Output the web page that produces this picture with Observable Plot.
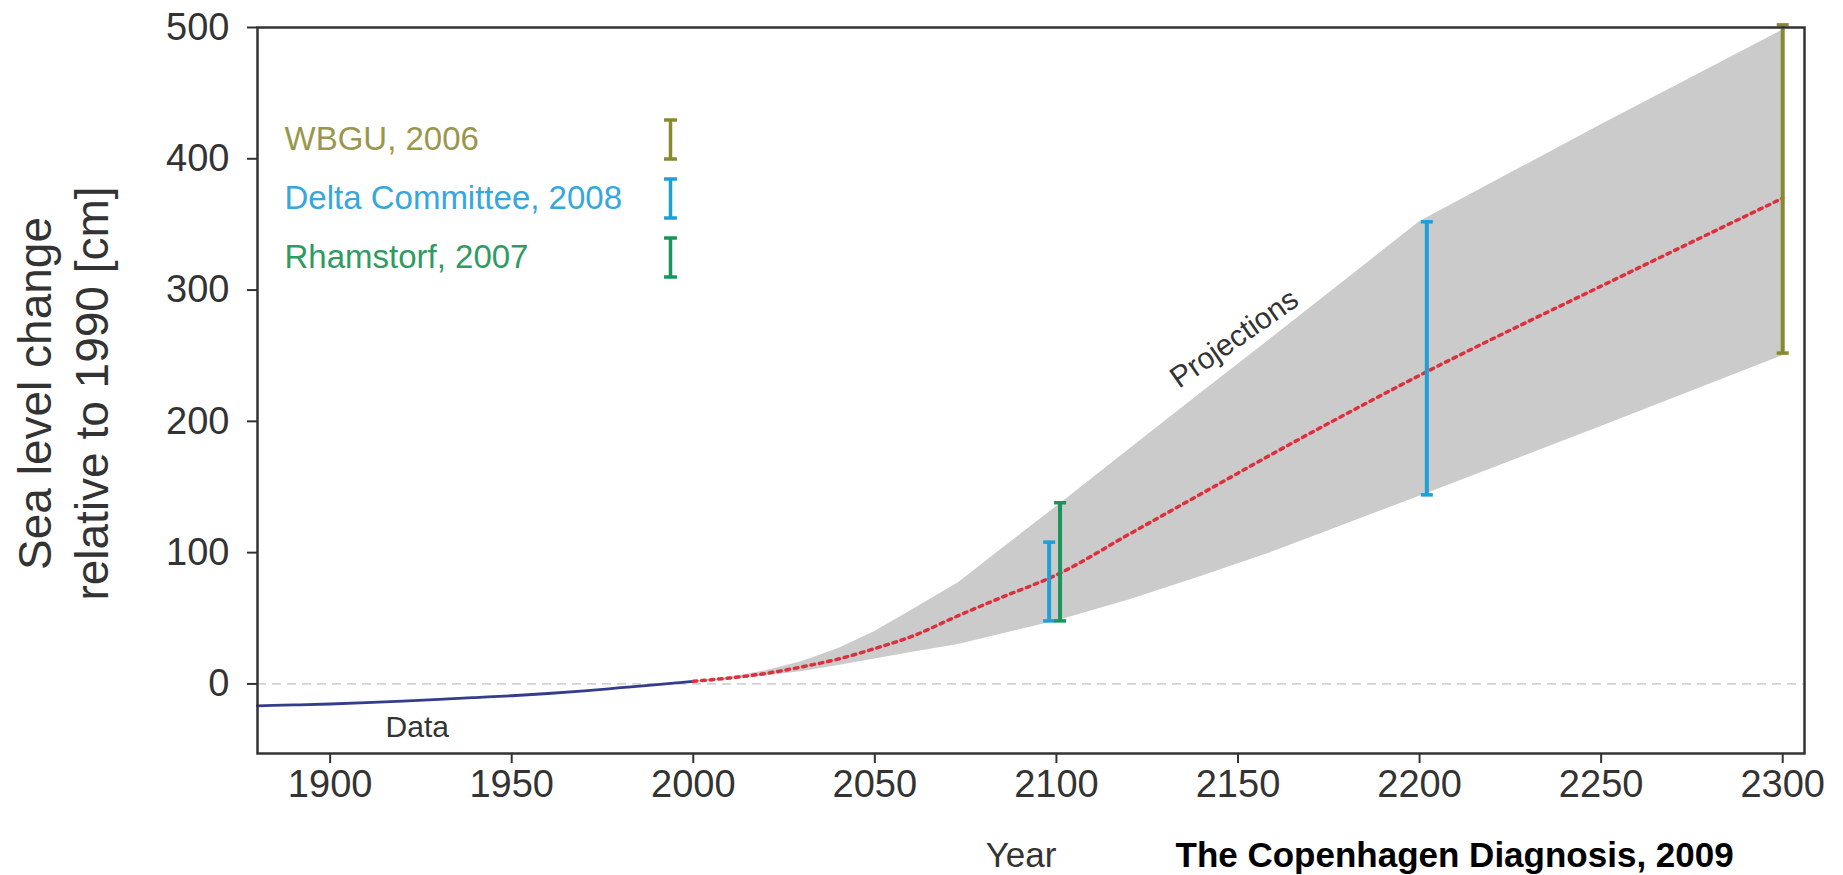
<!DOCTYPE html>
<html>
<head>
<meta charset="utf-8">
<script src="https://cdn.jsdelivr.net/npm/d3@7"></script>
<script src="https://cdn.jsdelivr.net/npm/@observablehq/plot@0.6"></script>
<style>
  html, body { margin: 0; padding: 0; background: #ffffff; }
  #chart svg { display: block; }
</style>
</head>
<body>
<div id="chart"></div>
<script>
// ---- Observed data (blue line) ----
const obsYears  = [1880, 1890, 1900, 1910, 1920, 1930, 1940, 1950, 1960, 1970, 1980, 1990, 2000];
const obsValues = [-16.7, -16, -15.3, -14.3, -13.1, -11.8, -10.4, -9, -7.3, -5.3, -2.9, -0.5, 2];

// ---- Projections (grey band + red dotted central line) ----
const projYears   = [2000, 2010, 2020, 2030, 2040, 2050, 2060, 2073, 2085, 2100, 2120, 2140, 2160, 2180, 2200, 2250, 2300];
const projLower   = [2, 3.5, 6, 9.5, 14, 19, 24, 30, 38, 48, 64, 82, 101, 122, 143, 196, 250];
const projCentral = [2, 4.5, 8, 13, 19, 27, 36, 52, 66, 83, 114, 145, 176, 206, 235, 303, 370];
const projUpper   = [2, 5, 10, 17, 27, 40, 56, 77, 103, 135, 178.5, 222, 265, 308.5, 352, 426, 498];

// ---- Published ranges (error bars) ----
const barYears   = [2098, 2101, 2202, 2300];
const barLow     = [48, 48, 144, 252];
const barHigh    = [108, 138, 352, 502];
const barSources = ["Delta Committee, 2008", "Rhamstorf, 2007", "Delta Committee, 2008", "WBGU, 2006"];

// ---- Legend ----
const legendLabels = ["WBGU, 2006", "Delta Committee, 2008", "Rhamstorf, 2007"];
const barColors    = {"WBGU, 2006": "#878a2c", "Delta Committee, 2008": "#1e9fd6", "Rhamstorf, 2007": "#17955a"};
const textColors   = {"WBGU, 2006": "#9a974c", "Delta Committee, 2008": "#35a7dc", "Rhamstorf, 2007": "#2e9c62"};

// ---- Axes ----
const xTicks = [1900, 1950, 2000, 2050, 2100, 2150, 2200, 2250, 2300];
const yTicks = [0, 100, 200, 300, 400, 500];

// ---- Annotations ----
const annotations = [
  {text: "Data", year: 1924, value: -33, rotate: 0},
  {text: "Projections", year: 2149, value: 263, rotate: -35}
];
const yTitleLines = ["Sea level change", "relative to 1990 [cm]"];
const xTitle = "Year";
const caption = "The Copenhagen Diagnosis, 2009";

// ---- Tables built from the arrays ----
const observed = obsYears.map((year, i) => ({year, value: obsValues[i]}));
const proj = projYears.map((year, i) => ({year, lower: projLower[i], central: projCentral[i], upper: projUpper[i]}));
const bars = barYears.map((year, i) => ({year, low: barLow[i], high: barHigh[i], source: barSources[i]}));

// Custom symbols
const capSymbol = {draw(ctx, size) { const r = Math.sqrt(size / Math.PI); ctx.moveTo(-r, 0); ctx.lineTo(r, 0); }};
const ibeamSymbol = {draw(ctx, size) {
  const r = Math.sqrt(size / Math.PI), w = r * 0.33;
  ctx.moveTo(-w, -r); ctx.lineTo(w, -r);
  ctx.moveTo(0, -r); ctx.lineTo(0, r);
  ctx.moveTo(-w, r); ctx.lineTo(w, r);
}};

const font = "'Liberation Sans', Arial, Helvetica, sans-serif";

const barMarks = legendLabels.flatMap(src => {
  const sub = bars.filter(d => d.source === src);
  const c = barColors[src];
  return [
    Plot.ruleX(sub, {x: "year", y1: "low", y2: "high", stroke: c, strokeWidth: 4}),
    Plot.dot(sub, {x: "year", y: "low", symbol: capSymbol, r: 6, stroke: c, strokeWidth: 3.5, fill: "none"}),
    Plot.dot(sub, {x: "year", y: "high", symbol: capSymbol, r: 6, stroke: c, strokeWidth: 3.5, fill: "none"})
  ];
});

const legendMarks = legendLabels.flatMap((src, i) => [
  Plot.text([src], {frameAnchor: "top-left", dx: 27, dy: 112 + i * 59, textAnchor: "start", lineAnchor: "middle",
    fill: textColors[src], fontSize: 33, fontFamily: font}),
  Plot.dot([0], {frameAnchor: "top-left", dx: 413, dy: 112 + i * 59, symbol: ibeamSymbol, r: 19.5,
    stroke: barColors[src], strokeWidth: 3.5, fill: "none"})
]);

const chart = Plot.plot({
  width: 1843,
  height: 875,
  marginLeft: 257,
  marginRight: 39,
  marginTop: 27,
  marginBottom: 122,
  clip: false,
  style: {fontFamily: font, fontSize: "38px", color: "#333", background: "#ffffff", overflow: "visible"},
  x: {domain: [1880, 2306]},
  y: {domain: [-53, 500]},
  marks: [
    Plot.ruleY([0], {stroke: "#d2d2d2", strokeWidth: 1.6, strokeDasharray: "9,6"}),
    Plot.areaY(proj, {x: "year", y1: "lower", y2: "upper", fill: "#cbcbcb", curve: "linear"}),
    Plot.line(observed, {x: "year", y: "value", stroke: "#333d8c", strokeWidth: 2.8, curve: "monotone-x"}),
    Plot.line(proj, {x: "year", y: "central", stroke: "#f0a6ae", strokeWidth: 1.5, curve: "monotone-x"}),
    Plot.line(proj, {x: "year", y: "central", stroke: "#d8323f", strokeWidth: 3.5, strokeDasharray: "3.5,5", curve: "monotone-x"}),
    ...barMarks,
    ...annotations.map(a => Plot.text([a], {x: "year", y: "value", text: "text", rotate: a.rotate,
      fontSize: 30, fill: "#333", fontFamily: font})),
    ...legendMarks,
    Plot.frame({stroke: "#333", strokeWidth: 2.5}),
    Plot.axisX({ticks: xTicks, tickFormat: d => String(d), tickSize: 10, tickPadding: 7, label: null,
      fontSize: 38, strokeWidth: 2}),
    Plot.axisY({ticks: yTicks, tickFormat: d => String(d), tickSize: 10, tickPadding: 18, label: null,
      fontSize: 38, strokeWidth: 2}),
    Plot.text([yTitleLines[0]], {frameAnchor: "left", dx: -207, dy: 3, rotate: -90, textAnchor: "middle", lineAnchor: "bottom",
      fontSize: 46, fill: "#333", fontFamily: font}),
    Plot.text([yTitleLines[1]], {frameAnchor: "left", dx: -150, dy: 3, rotate: -90, textAnchor: "middle", lineAnchor: "bottom",
      fontSize: 46, fill: "#333", fontFamily: font}),
    Plot.text([xTitle], {frameAnchor: "bottom", dx: -10, dy: 113, textAnchor: "middle", lineAnchor: "bottom",
      fontSize: 35, fill: "#333", fontFamily: font}),
    Plot.text([caption], {frameAnchor: "bottom-left", dx: 918, dy: 113, lineAnchor: "bottom", textAnchor: "start",
      fontSize: 35, fontWeight: "bold", fill: "#000", fontFamily: font})
  ]
});

document.getElementById("chart").appendChild(chart);
</script>
</body>
</html>
